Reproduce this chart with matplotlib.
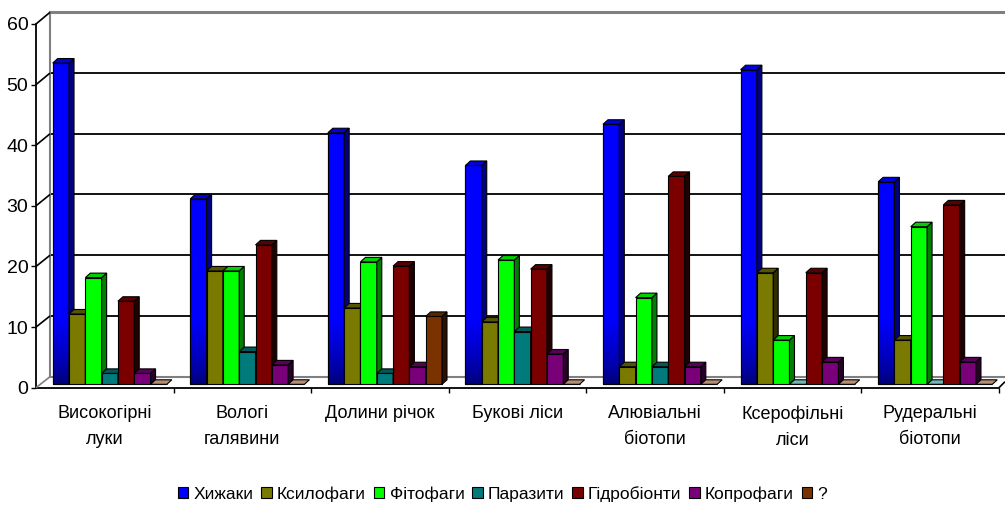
import numpy as np
import matplotlib
matplotlib.use("Agg")
import matplotlib.pyplot as plt
from matplotlib.patches import Polygon, Patch
from matplotlib.lines import Line2D
from matplotlib.colors import to_rgb
import matplotlib.transforms as mtransforms

plt.rcParams['font.family'] = ['Liberation Sans', 'DejaVu Sans']

# ---- data -------------------------------------------------------------
categories = ["Високогірні\nлуки", "Вологі\nгалявини", "Долини річок",
              "Букові ліси", "Алювіальні\nбіотопи", "Ксерофільні\nліси",
              "Рудеральні\nбіотопи"]
series_names = ["Хижаки", "Ксилофаги", "Фітофаги", "Паразити",
                "Гідробіонти", "Копрофаги", "?"]
khyzhaky     = [53.0, 30.6, 41.5, 36.1, 42.9, 51.9, 33.4]
ksylofagy    = [11.6, 18.7, 12.6, 10.3,  2.9, 18.4,  7.3]
fitofagy     = [17.6, 18.7, 20.2, 20.5, 14.3,  7.3, 26.0]
parazyty     = [ 1.8,  5.4,  1.8,  8.7,  2.9,  0.0,  0.0]
gidrobionty  = [13.7, 23.0, 19.5, 19.0, 34.3, 18.4, 29.6]
koprofagy    = [ 1.8,  3.2,  2.9,  5.0,  2.9,  3.7,  3.7]
nevidomi     = [ 0.0,  0.0, 11.2,  0.0,  0.0,  0.0,  0.0]
yticks = [0, 10, 20, 30, 40, 50, 60]

series_values = [khyzhaky, ksylofagy, fitofagy, parazyty,
                 gidrobionty, koprofagy, nevidomi]
front_colors = ["#0000FF", "#7A7A00", "#00FF00", "#007A7A",
                "#7A0000", "#7A007A", "#7A3300"]
side_colors = ["#000080", "#2E2E00", "#008000", "#003A3A",
               "#220000", "#2A002A", "#2A1000"]
top_colors = ["#0000DD", "#555500", "#00D000", "#005A5A",
              "#5A0000", "#5A005A", "#5A2800"]

# ---- figure geometry (pixels) ------------------------------------------
W, H = 1005, 507
fig = plt.figure(figsize=(W / 100, H / 100), dpi=100)
fig.patch.set_facecolor("white")

FX0, FX1 = 36, 999          # front floor edge
FY0, FY60 = 387.7, 24       # front plane: value 0 and 60
BX0, BX1 = 50, 1005         # back wall
BY0, BY60 = 376.7, 12.3     # back wall: value 0 and 60


def fpt(x, y):
    return x / W, 1 - y / H


def fig_line(x0, y0, x1, y1, color, lw):
    a, b = fpt(x0, y0)
    c, d = fpt(x1, y1)
    fig.add_artist(Line2D([a, c], [b, d], transform=fig.transFigure,
                          color=color, lw=lw, solid_capstyle="butt"))


# back wall with gridlines
ax_back = fig.add_axes([BX0 / W, 1 - BY0 / H, (BX1 - BX0) / W, (BY0 - BY60) / H])
ax_back.set_xlim(0, 1)
ax_back.set_ylim(0, 60)
ax_back.set_xticks([])
ax_back.set_yticks([])
for v in yticks[1:-1]:
    ax_back.axhline(v, color="black", lw=1.3)
for s in ["top", "left", "bottom"]:
    ax_back.spines[s].set_color("#808080")
ax_back.spines["top"].set_linewidth(2.2)
ax_back.spines["left"].set_linewidth(1.5)
ax_back.spines["bottom"].set_linewidth(1.5)
ax_back.spines["right"].set_visible(False)

# side wall diagonals
for v in yticks:
    yf = FY0 - (FY0 - FY60) * v / 60
    yb = BY0 - (BY0 - BY60) * v / 60
    col = "#808080" if v == 0 else "black"
    fig_line(FX0, yf, BX0, yb, col, 1.2)
# floor right edge
fig_line(FX1, FY0, BX1, FY0 - 6, "black", 1.2)

# front plane axes
ax = fig.add_axes([FX0 / W, 1 - FY0 / H, (FX1 - FX0) / W, (FY0 - FY60) / H])
ax.patch.set_alpha(0)
ax.set_xlim(-0.5, len(categories) - 0.5)
ax.set_ylim(0, 60)
for s in ["top", "right"]:
    ax.spines[s].set_visible(False)
for s in ["left", "bottom"]:
    ax.spines[s].set_color("black")
    ax.spines[s].set_linewidth(1.3)
ax.set_yticks(yticks)
ax.tick_params(axis="y", direction="out", length=3.5, width=1, labelsize=14,
               pad=2, colors="black")
ax.set_xticks(np.arange(len(categories)))
ax.set_xticklabels(categories, fontsize=13, linespacing=1.7)
ax.tick_params(axis="x", which="major", length=0, pad=12.5)
ax.set_xticks(np.arange(len(categories)) + 0.5, minor=True)
ax.tick_params(axis="x", which="minor", direction="out", length=3.5, width=1)

# 3-D column geometry
px_x = (FX1 - FX0) / len(categories)
px_y = (FY0 - FY60) / 60
bw = 0.1185
group_left = -0.5 * bw * len(series_values)
ddx = 5.0 / px_x
ddy = 4.5 / px_y
shift = mtransforms.ScaledTranslation(5 / 100, 3.4 / 100, fig.dpi_scale_trans)
trans = ax.transData + shift

x_base = np.arange(len(categories))
for j, vals in enumerate(series_values):
    z = 3 + j * 0.1
    xs = x_base + group_left + j * bw
    bars = ax.bar(xs, vals, width=bw, align="edge", color=front_colors[j],
                  edgecolor="black", linewidth=0.8, transform=trans,
                  zorder=z, clip_on=False)
    if j == 0:
        # darker shading towards the floor on the first series
        grad_h = 11.0
        c0 = np.array(to_rgb("#000070"))
        c1 = np.array(to_rgb("#0000FF"))
        t = np.linspace(0, 1, 128)[:, None] ** 0.7
        grad = (c0 + (c1 - c0) * t)[:, None, :]
        for b, x, h in zip(bars.patches, xs, vals):
            im = ax.imshow(grad, extent=[x, x + bw, 0, min(h, grad_h)],
                           origin="lower", aspect="auto", transform=trans,
                           zorder=z + 0.01, interpolation="bilinear")
            im.set_clip_path(b)
        ax.bar(xs, vals, width=bw, align="edge", fill=False,
               edgecolor="black", linewidth=0.8, transform=trans,
               zorder=z + 0.02, clip_on=False)
    for x, h in zip(xs, vals):
        xr = x + bw
        if h > 0:
            side = Polygon([(xr, 0), (xr, h), (xr + ddx, h + ddy), (xr + ddx, ddy)],
                           closed=True, facecolor=side_colors[j],
                           edgecolor="black", linewidth=0.8, transform=trans,
                           zorder=z + 0.03, clip_on=False)
            ax.add_patch(side)
            top_col = top_colors[j]
        else:
            rgb = np.array(to_rgb(front_colors[j]))
            top_col = tuple(rgb * 0.55 + 0.45)
        top = Polygon([(x, h), (xr, h), (xr + ddx, h + ddy), (x + ddx, h + ddy)],
                      closed=True, facecolor=top_col, edgecolor="black",
                      linewidth=0.8, transform=trans, zorder=z + 0.04,
                      clip_on=False)
        ax.add_patch(top)

# legend
handles = [Patch(facecolor=c, edgecolor="black", linewidth=0.8)
           for c in front_colors]
fig.legend(handles, series_names, loc="center", bbox_to_anchor=(0.5, 1 - 494 / H),
           ncol=len(series_names), frameon=False, fontsize=12.5,
           handlelength=0.6, handleheight=0.6, handletextpad=0.3,
           columnspacing=0.45, borderpad=0)

fig.savefig("out.png", dpi=100, facecolor="white")
